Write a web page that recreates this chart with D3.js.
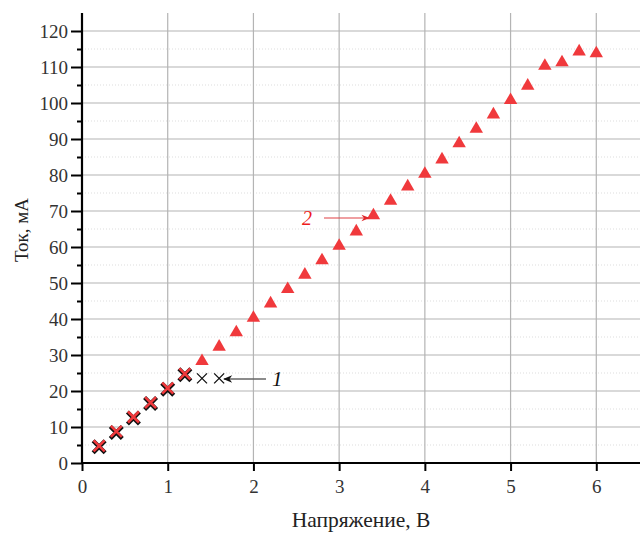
<!DOCTYPE html>
<html>
<head>
<meta charset="utf-8">
<script src="https://cdn.jsdelivr.net/npm/d3@7"></script>
<style>
  body { margin: 0; background: #fff; }
  svg { display: block; }
  svg text { font-family: "Times New Roman", "Liberation Serif", Times, serif; }
</style>
</head>
<body>
<svg width="640" height="534"></svg>
<script>
// series 1 (crosses) and series 2 (triangles)
const xs1 = [0.2, 0.4, 0.6, 0.8, 1.0, 1.2, 1.4, 1.6]
const ys1 = [4.5, 8.5, 12.5, 16.5, 20.5, 24.5, 23.5, 23.5]

const xs2 = [0.2, 0.4, 0.6, 0.8, 1.0, 1.2, 1.4, 1.6, 1.8, 2.0, 2.2, 2.4, 2.6, 2.8, 3.0,
             3.2, 3.4, 3.6, 3.8, 4.0, 4.2, 4.4, 4.6, 4.8, 5.0, 5.2, 5.4, 5.6, 5.8, 6.0]
const ys2 = [4.5, 8.5, 12.5, 16.5, 20.5, 24.5, 28, 32, 36, 40, 44, 48, 52, 56, 60,
             64, 68.5, 72.5, 76.5, 80, 84, 88.5, 92.5, 96.5, 100.5, 104.5, 110, 111, 114, 113.5]

const xTicks = [0, 1, 2, 3, 4, 5, 6]
const yTicks = [0, 10, 20, 30, 40, 50, 60, 70, 80, 90, 100, 110, 120]
const yMinor = [5, 15, 25, 35, 45, 55, 65, 75, 85, 95, 105, 115]

const svg = d3.select('svg')
const mLeft = 82, mBottom = 463, mRight = 640, mTop = 13
const serif = '"Times New Roman", "Liberation Serif", Times, serif'

const x = d3.scaleLinear().domain([0, 6.51]).range([mLeft, mRight])
const y = d3.scaleLinear().domain([0, 125]).range([mBottom, mTop])

// grid
const grid = svg.append('g')
grid.selectAll('.ymin').data(yMinor).enter().append('line')
  .attr('x1', mLeft).attr('x2', mRight)
  .attr('y1', d => y(d)).attr('y2', d => y(d))
  .attr('stroke', '#ddd').attr('stroke-width', 1).attr('stroke-dasharray', '1,2')
grid.selectAll('.ymaj').data(yTicks.filter(d => d > 0)).enter().append('line')
  .attr('x1', mLeft).attr('x2', mRight)
  .attr('y1', d => y(d)).attr('y2', d => y(d))
  .attr('stroke', '#b4b4b4').attr('stroke-width', 1.2)
grid.selectAll('.xmaj').data(xTicks.filter(d => d > 0)).enter().append('line')
  .attr('x1', d => x(d)).attr('x2', d => x(d))
  .attr('y1', mTop).attr('y2', mBottom)
  .attr('stroke', '#b4b4b4').attr('stroke-width', 1.2)

// axes
const fmt = d3.format('d')
const yAxis = svg.append('g').attr('transform', `translate(${mLeft},0)`)
  .call(d3.axisLeft(y).tickValues(yTicks).tickFormat(fmt).tickSize(11).tickPadding(3))
const yAxisMinor = svg.append('g').attr('transform', `translate(${mLeft},0)`)
  .call(d3.axisLeft(y).tickValues(yMinor).tickSize(5).tickFormat(''))
const xAxis = svg.append('g').attr('transform', `translate(0,${mBottom})`)
  .call(d3.axisBottom(x).tickValues(xTicks).tickFormat(fmt).tickSize(8).tickPadding(9))

for (const ax of [yAxis, yAxisMinor, xAxis]) {
  ax.attr('font-family', serif)
  ax.select('.domain').remove()
  ax.selectAll('.tick line').attr('stroke', '#000').attr('stroke-width', 2)
  ax.selectAll('text').style('font-family', serif)
    .attr('font-size', 19).attr('fill', '#333')
}
svg.append('line').attr('x1', mLeft).attr('x2', mLeft).attr('y1', mTop).attr('y2', mBottom + 1)
  .attr('stroke', '#000').attr('stroke-width', 2.2)
svg.append('line').attr('x1', mLeft - 1).attr('x2', mRight).attr('y1', mBottom).attr('y2', mBottom)
  .attr('stroke', '#000').attr('stroke-width', 2.2)

// axis titles
svg.append('text').attr('transform', 'translate(28,230) rotate(-90)')
  .attr('text-anchor', 'middle').attr('font-size', 19).attr('fill', '#222')
  .text('Ток, мА')
svg.append('text').attr('x', 361).attr('y', 527)
  .attr('text-anchor', 'middle').attr('font-size', 21.5).attr('fill', '#222')
  .text('Напряжение, В')

// markers
const red = '#f0393c'
const crossPath = s => `M${-s},${-s}L${s},${s}M${-s},${s}L${s},${-s}`
const pts1 = xs1.map((v, i) => ({x: v, y: ys1[i]}))
const pts2 = xs2.map((v, i) => ({x: v, y: ys2[i]}))
const same = (a, b) => a.x === b.x && a.y === b.y
const hasTri = p => pts2.some(q => same(p, q))
const hasCross = p => pts1.some(q => same(p, q))

svg.append('g').selectAll('path').data(pts1).enter().append('path')
  .attr('transform', d => `translate(${x(d.x)},${y(d.y)})`)
  .attr('d', d => crossPath(hasTri(d) ? 6 : 5))
  .attr('stroke', '#111').attr('stroke-width', d => hasTri(d) ? 4.2 : 1.3).attr('fill', 'none')

const tri = d3.symbol().type(d3.symbolTriangle).size(78)
svg.append('g').selectAll('path').data(pts2).enter().append('path')
  .attr('transform', d => `translate(${x(d.x)},${y(d.y) - 1})`)
  .attr('d', d => hasCross(d) ? crossPath(5.5) : tri())
  .attr('stroke', d => hasCross(d) ? red : 'none')
  .attr('stroke-width', 2.6)
  .attr('fill', d => hasCross(d) ? 'none' : red)

// annotations
const defs = svg.append('defs')
defs.append('marker').attr('id', 'ahK').attr('viewBox', '0 0 10 10').attr('refX', 9).attr('refY', 5)
  .attr('markerWidth', 9).attr('markerHeight', 7).attr('orient', 'auto')
  .append('path').attr('d', 'M0,1L10,5L0,9L3,5Z').attr('fill', '#111')
defs.append('marker').attr('id', 'ahR').attr('viewBox', '0 0 10 10').attr('refX', 9).attr('refY', 5)
  .attr('markerWidth', 9).attr('markerHeight', 7).attr('orient', 'auto')
  .append('path').attr('d', 'M0,1L10,5L0,9L3,5Z').attr('fill', '#e0282c')

svg.append('line').attr('x1', 266).attr('y1', 379).attr('x2', 224).attr('y2', 379)
  .attr('stroke', '#666').attr('stroke-width', 1.3).attr('marker-end', 'url(#ahK)')
svg.append('text').attr('x', 272).attr('y', 386).attr('font-size', 21)
  .attr('font-style', 'italic').attr('fill', '#111').text('1')

svg.append('line').attr('x1', 324).attr('y1', 218).attr('x2', 369).attr('y2', 218)
  .attr('stroke', '#e04044').attr('stroke-width', 1.2).attr('marker-end', 'url(#ahR)')
svg.append('text').attr('x', 302).attr('y', 225).attr('font-size', 20)
  .attr('font-style', 'italic').attr('fill', '#ee1c1c').text('2')
</script>
</body>
</html>
